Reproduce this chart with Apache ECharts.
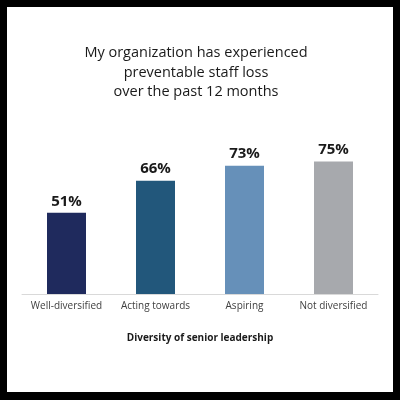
<!DOCTYPE html>
<html>
<head>
<meta charset="utf-8">
<script src="https://cdn.jsdelivr.net/npm/echarts@6/dist/echarts.min.js"></script>
<style>
html,body{margin:0;padding:0;background:#000;}
#chart{width:400px;height:400px;}
</style>
</head>
<body>
<div id="chart"></div>
<script>
const categories = ['Well-diversified', 'Acting towards', 'Aspiring', 'Not diversified'];
const values = [51, 66, 73, 75];
const barColors = ['#1f2a5d', '#22577b', '#6690b9', '#a7a9ad'];
const titleLines = ['My organization has experienced', 'preventable staff loss', 'over the past 12 months'];
const axisTitle = 'Diversity of senior leadership';

const chart = echarts.init(document.getElementById('chart'), null, {renderer: 'canvas'});
const font = '"Open Sans", "Noto Sans", sans-serif';
chart.setOption({
  backgroundColor: '#000',
  animation: false,
  graphic: [{
    type: 'rect', z: -10, silent: true,
    shape: {x: 7, y: 7, width: 386, height: 385},
    style: {fill: '#fff'}
  }],
  title: {
    text: titleLines.join('\n'),
    left: 196, top: 43.5, textAlign: 'center', padding: 0,
    textStyle: {fontFamily: font, fontSize: 14.5, fontWeight: 'normal', color: '#1a1a1a', lineHeight: 19.3}
  },
  grid: {left: 22, right: 22, top: 108, bottom: 106},
  xAxis: {
    type: 'category',
    data: categories,
    axisLine: {lineStyle: {color: '#d9d9d9', width: 1}},
    axisTick: {show: false},
    axisLabel: {fontFamily: font, fontSize: 10, color: '#404040', margin: 7.5, interval: 0},
    name: axisTitle,
    nameLocation: 'middle',
    nameGap: 39,
    nameTextStyle: {fontFamily: font, fontSize: 10, fontWeight: 'bold', color: '#1a1a1a'}
  },
  yAxis: {
    type: 'value', min: 13, max: 100,
    show: false,
    splitLine: {show: false}
  },
  series: [{
    type: 'bar',
    data: values.map((v, i) => ({value: v, itemStyle: {color: barColors[i]}})),
    barWidth: 39,
    label: {
      show: true, position: 'top', distance: 4,
      formatter: p => p.value + '%',
      fontFamily: font, fontSize: 15, fontWeight: 'bold', color: '#1a1a1a'
    }
  }]
});
</script>
</body>
</html>
